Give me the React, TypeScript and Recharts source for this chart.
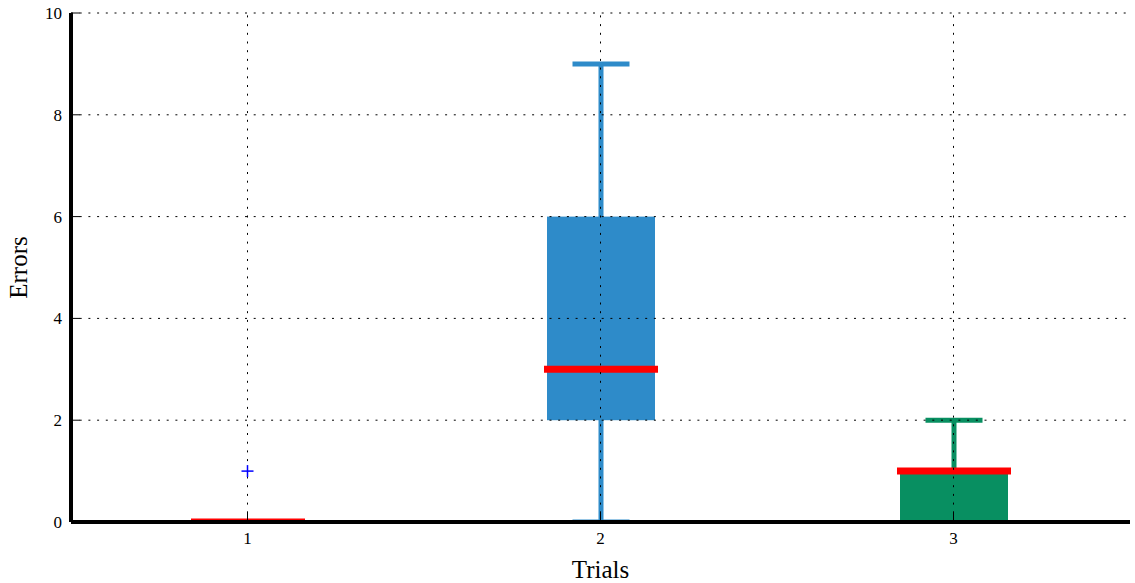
import { Bar, ComposedChart, ReferenceLine, Scatter, XAxis, YAxis } from "recharts"

const trials = ["1", "2", "3"]
const whiskerLow = [0, 0, 0]
const lowerQuartile = [0, 2, 0]
const median = [0, 3, 1]
const upperQuartile = [0, 6, 1]
const whiskerHigh = [0, 9, 2]
const outlierTrials = ["1"]
const outlierValues = [1]
const yTicks = [0, 2, 4, 6, 8, 10]
const gridY = [2, 4, 6, 8, 10]

const boxColors = ["#2E8BC9", "#2E8BC9", "#088F61"]
const font = "'Liberation Serif', 'Times New Roman', serif"

const data = trials.map((name, i) => ({
  name,
  lo: whiskerLow[i],
  q1: lowerQuartile[i],
  med: median[i],
  q3: upperQuartile[i],
  hi: whiskerHigh[i],
}))

const outliers = outlierTrials.map((name, i) => ({ name, v: outlierValues[i] }))

function BoxShape(props: any) {
  const { x, y, width, height, payload, index } = props
  const { lo, q1, med, q3, hi } = payload
  const span = hi - lo
  const toY = (v: number) => (span > 0 ? y + ((hi - v) / span) * height : y)
  const cx = x + width / 2
  const color = boxColors[index]
  const capHalf = 28.5
  // keep everything above the thick x axis line, like the original
  const floor = toY(0) - 2
  const clipId = "box-clip-" + index
  return (
    <g>
      <defs>
        <clipPath id={clipId}>
          <rect x={x - 40} y={0} width={width + 80} height={floor} />
        </clipPath>
      </defs>
      <g clipPath={`url(#${clipId})`}>
        {span > 0 && <line x1={cx} x2={cx} y1={toY(hi)} y2={toY(lo)} stroke={color} strokeWidth={5} />}
        {span > 0 && (
          <line x1={cx - capHalf} x2={cx + capHalf} y1={toY(hi)} y2={toY(hi)} stroke={color} strokeWidth={5} />
        )}
        {span > 0 && (
          <line x1={cx - capHalf} x2={cx + capHalf} y1={toY(lo)} y2={toY(lo)} stroke={color} strokeWidth={5} />
        )}
        {q3 > q1 && <rect x={x} y={toY(q3)} width={width} height={toY(q1) - toY(q3)} fill={color} />}
        <line x1={x - 3} x2={x + width + 3} y1={toY(med)} y2={toY(med)} stroke="#FF0000" strokeWidth={7} />
      </g>
    </g>
  )
}

function PlusShape(props: any) {
  const { cx, cy } = props
  return (
    <g stroke="#0000FF" strokeWidth={1.5}>
      <line x1={cx - 6} x2={cx + 6} y1={cy} y2={cy} />
      <line x1={cx} x2={cx} y1={cy - 6} y2={cy + 6} />
    </g>
  )
}

export default function App() {
  return (
    <div style={{ position: "absolute", left: 0, top: 0 }}>
      <ComposedChart
        width={1135}
        height={583}
        data={data}
        margin={{ top: 13, right: 5, bottom: 0, left: 0 }}
        barCategoryGap={0}
      >
        <Bar
          dataKey={(d: any) => [d.lo, d.hi]}
          barSize={108}
          shape={BoxShape}
          isAnimationActive={false}
        />
        <Scatter data={outliers} dataKey="v" shape={PlusShape} isAnimationActive={false} />
        {gridY.map((v) => (
          <ReferenceLine key={"y" + v} y={v} stroke="#000" strokeWidth={1} strokeDasharray="2 6.7" />
        ))}
        {trials.map((t) => (
          <ReferenceLine key={"x" + t} x={t} stroke="#000" strokeWidth={1} strokeDasharray="2 6.7" />
        ))}
        <XAxis
          dataKey="name"
          type="category"
          allowDuplicatedCategory={false}
          height={61}
          axisLine={{ stroke: "#000", strokeWidth: 4 }}
          tickLine={{ stroke: "#000", strokeWidth: 1 }}
          tickSize={-9}
          tickMargin={19}
          tick={{ fill: "#000", fontSize: 17, fontFamily: font }}
          label={{
            value: "Trials",
            position: "insideBottom",
            offset: 5,
            style: { fill: "#000", fontSize: 25, fontFamily: font },
          }}
        />
        <YAxis
          type="number"
          domain={[0, 10]}
          ticks={yTicks}
          width={71}
          axisLine={{ stroke: "#000", strokeWidth: 4 }}
          tickLine={{ stroke: "#000", strokeWidth: 1 }}
          tickSize={-9}
          tickMargin={18}
          tick={{ fill: "#000", fontSize: 17, fontFamily: font }}
          label={{
            value: "Errors",
            angle: -90,
            position: "insideLeft",
            offset: 18,
            style: { fill: "#000", fontSize: 25, fontFamily: font, textAnchor: "middle" },
          }}
        />
      </ComposedChart>
    </div>
  )
}
